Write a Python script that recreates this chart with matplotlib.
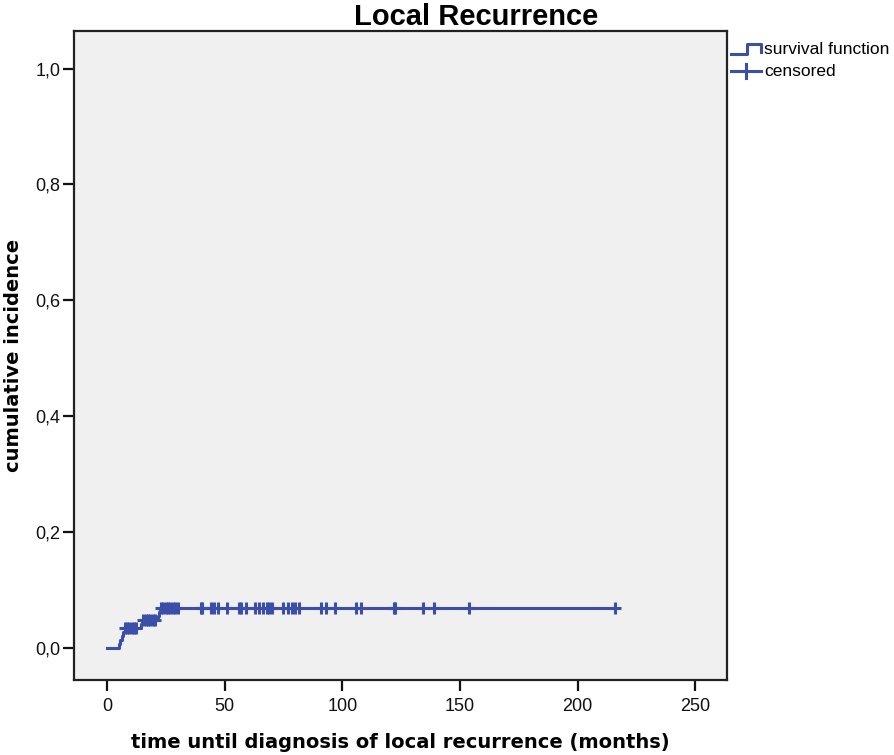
import numpy as np
import matplotlib.pyplot as plt
from matplotlib.lines import Line2D

# step curve: time (months) and cumulative incidence after each step
step_times = [0, 5, 5.7, 6.3, 7.0, 7.6, 14.3, 14.8, 21.6, 22.0, 22.4]
step_values = [0.0, 0.007, 0.014, 0.021, 0.028, 0.034, 0.041, 0.048, 0.055, 0.062, 0.069]
end_time = 216

# censored observations (time, level)
cens_low = [7.5, 8.5, 9.5, 10.5, 11.5, 12.5]            # at 0.034
cens_mid = [15.5, 16.5, 17.5, 18.5, 19.5, 20.5]         # at 0.048
cens_high = [23, 24, 25, 26, 27, 28, 29, 30, 40, 40.5, 44, 45.5, 47, 51,
             56, 57, 59, 63, 64.5, 66.5, 68, 69, 70, 75, 77, 78.5, 80, 81.5,
             91, 93, 97, 106, 108, 122, 122.5, 134.5, 139, 154, 216]

xticks = [0, 50, 100, 150, 200, 250]
yticks = [0.0, 0.2, 0.4, 0.6, 0.8, 1.0]
ytick_labels = ['0,0', '0,2', '0,4', '0,6', '0,8', '1,0']

blue = '#3b4fa8'
plt.rcParams['font.family'] = ['Liberation Sans', 'DejaVu Sans']

fig = plt.figure(figsize=(8.94, 7.55), dpi=100)
ax = fig.add_axes([0.0828, 0.0993, 0.7304, 0.859])
ax.set_facecolor('#f0f0f0')

xs = list(step_times) + [end_time]
ys = list(step_values) + [step_values[-1]]
ax.step(xs, ys, where='post', color=blue, lw=2.2, zorder=3)

for times, level in [(cens_low, 0.034), (cens_mid, 0.048), (cens_high, 0.069)]:
    ax.plot(times, [level] * len(times), ls='none', marker='+', ms=8,
            mew=2.2, color=blue, zorder=4)

ax.set_xlim(-14, 263.5)
ax.set_ylim(-0.055, 1.064)
ax.set_xticks(xticks)
ax.set_xticklabels([str(t) for t in xticks])
ax.set_yticks(yticks)
ax.set_yticklabels(ytick_labels)
ax.tick_params(direction='out', length=8, width=1.6, labelsize=13, colors='#111111')
ax.tick_params(axis='y', pad=2)
ax.tick_params(axis='x', pad=5)
for s in ax.spines.values():
    s.set_linewidth(1.6)
    s.set_color('#222222')

ax.set_xlabel('time until diagnosis of local recurrence (months)', fontsize=14,
              fontweight='bold', family='DejaVu Sans', labelpad=13)
ax.set_ylabel('cumulative incidence', fontsize=14, fontweight='bold',
              family='DejaVu Sans', labelpad=9)

fig.text(476 / 894, 1 - 17 / 755, 'Local Recurrence', ha='center', va='center',
         fontsize=21, fontweight='bold', family='Liberation Sans')

# legend drawn in figure coordinates
lg = fig.add_axes([0, 0, 1, 1], facecolor='none')
lg.set_xlim(0, 894)
lg.set_ylim(755, 0)
lg.axis('off')
lg.add_line(Line2D([731, 747, 747, 761, 761], [54, 54, 44, 44, 52], color=blue, lw=2.2))
lg.add_line(Line2D([731, 761], [71, 71], color=blue, lw=2.2))
lg.add_line(Line2D([746, 746], [64, 78], color=blue, lw=2.2))
lg.text(764, 49, 'survival function', fontsize=12.5, va='center', ha='left')
lg.text(764, 71, 'censored', fontsize=12.5, va='center', ha='left')

fig.savefig('out.png', dpi=100)
